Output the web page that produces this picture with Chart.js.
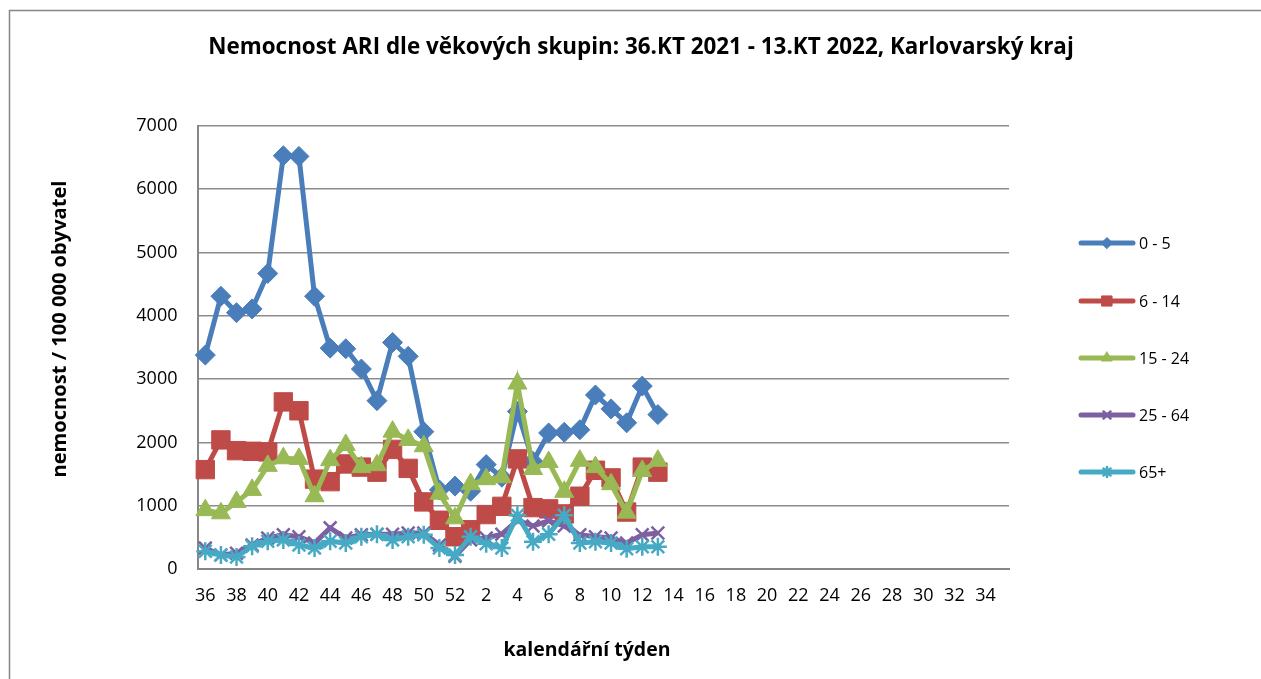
<!DOCTYPE html>
<html>
<head>
<meta charset="utf-8">
<title>Nemocnost ARI</title>
<script src="https://cdn.jsdelivr.net/npm/chart.js@4"></script>
<style>
  html, body { margin: 0; padding: 0; background: #fff; }
  #wrap { width: 1261px; height: 679px; position: relative; }
</style>
</head>
<body>
<div id="wrap"><canvas id="ariChart" width="1261" height="679"></canvas></div>
<script>
// calendar weeks 36/2021 .. 35/2022
const weeks = [36, 37, 38, 39, 40, 41, 42, 43, 44, 45, 46, 47, 48, 49, 50, 51, 52,
  1, 2, 3, 4, 5, 6, 7, 8, 9, 10, 11, 12, 13, 14, 15, 16, 17, 18, 19, 20,
  21, 22, 23, 24, 25, 26, 27, 28, 29, 30, 31, 32, 33, 34, 35];

const seriesNames = ['0 - 5', '6 - 14', '15 - 24', '25 - 64', '65+'];

const age0_5 = [3380, 4310, 4050, 4110, 4670, 6530, 6520, 4310, 3490, 3480, 3160, 2660, 3580, 3360,
  2170, 1250, 1310, 1230, 1650, 1450, 2490, 1700, 2150, 2160, 2200, 2750, 2530, 2310, 2890, 2440];
const age6_14 = [1570, 2040, 1870, 1860, 1850, 2640, 2500, 1420, 1380, 1660, 1610, 1530, 1890, 1590,
  1060, 770, 510, 620, 860, 990, 1740, 970, 950, 870, 1150, 1560, 1440, 900, 1610, 1530];
const age15_24 = [930, 880, 1060, 1250, 1630, 1750, 1740, 1150, 1720, 1960, 1610, 1640, 2170, 2040,
  1940, 1190, 800, 1340, 1420, 1450, 2930, 1580, 1690, 1220, 1710, 1610, 1340, 890, 1550, 1710];
const age25_64 = [330, 220, 250, 380, 490, 540, 510, 410, 650, 490, 540, 550, 550, 570,
  570, 380, 200, 460, 490, 550, 770, 680, 760, 680, 540, 510, 490, 410, 540, 570];
const age65 = [280, 220, 190, 360, 440, 460, 380, 330, 440, 410, 510, 550, 460, 510,
  540, 330, 220, 510, 400, 330, 850, 430, 550, 850, 410, 430, 410, 320, 350, 350];

const yTicks = [0, 1000, 2000, 3000, 4000, 5000, 6000, 7000];

const colors = ['#4A7EBB', '#BE4B48', '#98B954', '#7D60A0', '#46AAC5'];
const markers = ['rectRot', 'rect', 'triangle', 'crossRot', 'star'];
const markerSize = [10, 13, 11, 9, 9];
const FONT = "'Open Sans', 'DejaVu Sans', sans-serif";

const allSeries = [age0_5, age6_14, age15_24, age25_64, age65];

const datasets = allSeries.map((d, i) => ({
  label: seriesNames[i],
  data: d,
  borderColor: colors[i],
  backgroundColor: colors[i],
  borderWidth: 5,
  pointStyle: markers[i],
  pointRadius: markerSize[i],
  pointHoverRadius: markerSize[i],
  pointBackgroundColor: colors[i],
  pointBorderColor: colors[i],
  pointBorderWidth: i >= 3 ? 2.5 : 1,
  tension: 0,
  order: 10 - i
}));

function fitFont(ctx, text, target, weight) {
  let size = 30;
  ctx.font = weight + ' ' + size + 'px ' + FONT;
  const w = ctx.measureText(text).width;
  size = size * target / w;
  return weight + ' ' + size.toFixed(2) + 'px ' + FONT;
}

// titles, frame and the line+marker legend
const decorPlugin = {
  id: 'decor',
  beforeDraw(chart) {
    const ctx = chart.ctx;
    ctx.save();
    ctx.fillStyle = '#fff';
    ctx.fillRect(0, 0, chart.width, chart.height);
    ctx.restore();
  },
  afterDraw(chart) {
    const ctx = chart.ctx;
    ctx.save();
    // outer frame
    ctx.strokeStyle = '#868686';
    ctx.lineWidth = 1.5;
    ctx.beginPath();
    ctx.moveTo(9.5, chart.height);
    ctx.lineTo(9.5, 10.5);
    ctx.lineTo(chart.width, 10.5);
    ctx.stroke();

    ctx.fillStyle = '#000';
    ctx.textBaseline = 'middle';
    ctx.textAlign = 'center';
    const title = 'Nemocnost ARI dle věkových skupin: 36.KT 2021 - 13.KT 2022, Karlovarský kraj';
    ctx.font = fitFont(ctx, title, 866, 'bold');
    ctx.fillText(title, 641, 48);

    const xTitle = 'kalendářní týden';
    ctx.font = fitFont(ctx, xTitle, 167, 'bold');
    ctx.fillText(xTitle, 587, 650);

    const yTitle = 'nemocnost / 100 000 obyvatel';
    ctx.save();
    ctx.translate(60, 329);
    ctx.rotate(-Math.PI / 2);
    ctx.font = fitFont(ctx, yTitle, 297, 'bold');
    ctx.fillText(yTitle, 0, 0);
    ctx.restore();

    // legend
    const legendY = [243, 301, 358, 415, 472];
    chart.data.datasets.forEach((ds, i) => {
      const y = legendY[i];
      ctx.strokeStyle = ds.borderColor;
      ctx.lineWidth = 5;
      ctx.lineCap = 'round';
      ctx.beginPath();
      ctx.moveTo(1081, y);
      ctx.lineTo(1133, y);
      ctx.stroke();
      ctx.fillStyle = ds.borderColor;
      ctx.strokeStyle = ds.borderColor;
      ctx.lineWidth = ds.pointBorderWidth;
      Chart.helpers.drawPoint(ctx, {
        pointStyle: ds.pointStyle,
        radius: ds.pointRadius * 0.55,
        borderWidth: ds.pointBorderWidth
      }, 1107, y);
      ctx.fillStyle = '#000';
      ctx.textAlign = 'left';
      ctx.font = '16px ' + FONT;
      ctx.fillText(ds.label, 1139, y + 1);
    });
    ctx.restore();
  }
};

new Chart(document.getElementById('ariChart').getContext('2d'), {
  type: 'line',
  data: { labels: weeks, datasets: datasets },
  plugins: [decorPlugin],
  options: {
    responsive: false,
    animation: false,
    devicePixelRatio: 1,
    layout: { padding: { left: 0, top: 126, right: 252, bottom: 0 } },
    plugins: {
      legend: { display: false },
      title: { display: false },
      tooltip: { enabled: false }
    },
    scales: {
      x: {
        type: 'category',
        offset: true,
        grid: { display: false, drawTicks: false, offset: true },
        border: { display: true, color: '#868686', width: 2 },
        ticks: {
          autoSkip: false,
          maxRotation: 0,
          padding: 16,
          color: '#000',
          font: { family: FONT, size: 18 },
          callback: function (val, idx) {
            return idx % 2 === 0 ? String(this.getLabelForValue(val)) : '';
          }
        },
        afterFit: s => { s.height = 110; }
      },
      y: {
        min: yTicks[0],
        max: yTicks[yTicks.length - 1],
        afterBuildTicks: s => { s.ticks = yTicks.map(v => ({ value: v })); },
        grid: { color: '#8c8c8c', lineWidth: 1.6, drawTicks: false },
        border: { display: true, color: '#868686', width: 2 },
        ticks: {
          padding: 20,
          color: '#000',
          font: { family: FONT, size: 18 },
          callback: v => String(v)
        },
        afterFit: s => { s.width = 197.5; }
      }
    }
  }
});
</script>
</body>
</html>
